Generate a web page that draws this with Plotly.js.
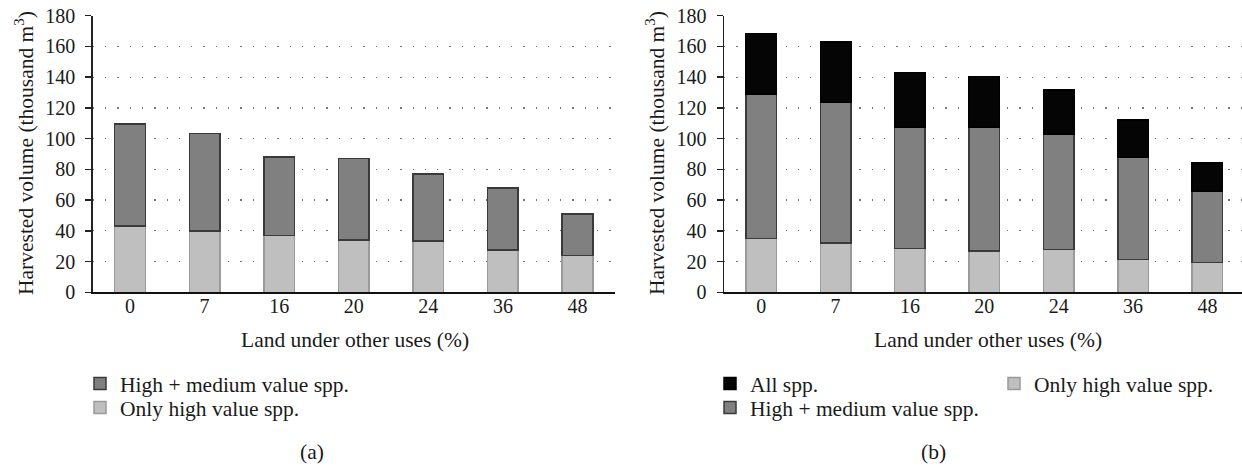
<!DOCTYPE html>
<html>
<head>
<meta charset="utf-8">
<script src="https://cdn.plot.ly/plotly-3.0.1.min.js"></script>
<style>html,body{margin:0;padding:0;background:#fff;}#chart{width:1242px;height:467px;}</style>
</head>
<body>
<div id="chart"></div>
<script>
// ---- Data (thousand m3) ----
const categories = ['0', '7', '16', '20', '24', '36', '48'];
// Panel (a): cumulative heights
const aOnlyHigh = [43, 40, 37, 34, 33.5, 27.5, 24];
const aHighMedium = [109.5, 103.5, 88, 87, 77, 68, 51];
// Panel (b): cumulative heights
const bOnlyHigh = [35, 32, 28.5, 27, 28, 21.5, 19.5];
const bHighMedium = [129, 123.5, 107.5, 107.5, 103, 88, 66];
const bAll = [168.5, 163, 143, 140.5, 131.5, 112, 84];
const yTickVals = [0, 20, 40, 60, 80, 100, 120, 140, 160, 180];

const seriesNames = {
  all: 'All spp.',
  highMed: 'High + medium value spp.',
  high: 'Only high value spp.'
};

// ---- Styling ----
const W = 1242, H = 467;
const FONT = 'Liberation Serif, Times New Roman, serif';
const TXT = '#1a1a1a';
const FS = 21.5;
const cLight = '#bfbfbf', cMed = '#808080', cBlack = '#050505';
const diff = (top, bottom) => top.map((v, i) => +(v - bottom[i]).toFixed(2));

const px = x => x / W;
const py = y => (H - y) / H;
const yDom = [py(292.3), py(15.7)];

const traces = [
  // panel (a)
  {type: 'bar', x: categories, y: aOnlyHigh, name: seriesNames.high, xaxis: 'x', yaxis: 'y',
   marker: {color: cLight, line: {color: '#9a9a9a', width: 1.5}}, legend: 'legend2'},
  {type: 'bar', x: categories, y: diff(aHighMedium, aOnlyHigh), name: seriesNames.highMed, xaxis: 'x', yaxis: 'y',
   marker: {color: cMed, line: {color: '#3a3a3a', width: 1.5}}, legend: 'legend'},
  // panel (b)
  {type: 'bar', x: categories, y: bOnlyHigh, name: seriesNames.high, xaxis: 'x2', yaxis: 'y2',
   marker: {color: cLight, line: {color: '#9a9a9a', width: 1.5}}, legend: 'legend5'},
  {type: 'bar', x: categories, y: diff(bHighMedium, bOnlyHigh), name: seriesNames.highMed, xaxis: 'x2', yaxis: 'y2',
   marker: {color: cMed, line: {color: '#3a3a3a', width: 1.5}}, legend: 'legend4'},
  {type: 'bar', x: categories, y: diff(bAll, bHighMedium), name: seriesNames.all, xaxis: 'x2', yaxis: 'y2',
   marker: {color: cBlack, line: {color: '#000', width: 1.5}}, legend: 'legend3'}
];
traces.forEach(t => { t.hoverinfo = 'none'; });

const yAxisBase = {
  range: [0, 180], tickvals: yTickVals, ticks: 'outside', ticklen: 6, tickwidth: 1.5, tickcolor: '#222',
  showline: true, linecolor: '#222', linewidth: 1.5, zeroline: false,
  showgrid: true, gridcolor: '#777', gridwidth: 1.3, griddash: '1.3px,11px',
  tickfont: {family: FONT, size: 20, color: TXT}, ticklabelstandoff: 6,
  domain: yDom, fixedrange: true
};
const xAxisBase = {
  type: 'category', showline: true, linecolor: '#111', linewidth: 1.5, ticks: '', showgrid: false,
  tickfont: {family: FONT, size: 20, color: TXT}, ticklabelstandoff: -5, fixedrange: true
};

const legendBase = {
  font: {family: FONT, size: FS, color: TXT}, bgcolor: 'rgba(0,0,0,0)', borderwidth: 0,
  xanchor: 'left', yanchor: 'top', orientation: 'v', traceorder: 'normal', tracegroupgap: 0,
  itemclick: false, itemdoubleclick: false
};
const row1 = py(363), row2 = py(387);

const layout = {
  width: W, height: H,
  margin: {l: 0, r: 0, t: 0, b: 0},
  paper_bgcolor: '#fff', plot_bgcolor: 'rgba(0,0,0,0)',
  barmode: 'stack', bargap: 0.59,
  showlegend: true,
  xaxis: Object.assign({}, xAxisBase, {domain: [px(92.7), px(614.8)], anchor: 'y', range: [-0.5, 6.5]}),
  yaxis: Object.assign({}, yAxisBase, {anchor: 'x'}),
  xaxis2: Object.assign({}, xAxisBase, {domain: [px(724), 1], anchor: 'y2', range: [-0.5, 6.464]}),
  yaxis2: Object.assign({}, yAxisBase, {anchor: 'x2'}),
  legend: Object.assign({}, legendBase, {x: px(80), y: row1}),
  legend2: Object.assign({}, legendBase, {x: px(80), y: row2}),
  legend3: Object.assign({}, legendBase, {x: px(710), y: row1}),
  legend4: Object.assign({}, legendBase, {x: px(710), y: row2}),
  legend5: Object.assign({}, legendBase, {x: px(994), y: row1}),
  annotations: [
    {text: 'Harvested volume (thousand m<sup>3</sup>)', textangle: -90, xref: 'paper', yref: 'paper',
     x: px(24), y: py(153), xanchor: 'center', yanchor: 'middle', showarrow: false,
     font: {family: FONT, size: FS, color: TXT}},
    {text: 'Harvested volume (thousand m<sup>3</sup>)', textangle: -90, xref: 'paper', yref: 'paper',
     x: px(655), y: py(153), xanchor: 'center', yanchor: 'middle', showarrow: false,
     font: {family: FONT, size: FS, color: TXT}},
    {text: 'Land under other uses (%)', xref: 'paper', yref: 'paper', x: px(355), y: py(340),
     xanchor: 'center', yanchor: 'middle', showarrow: false, font: {family: FONT, size: FS, color: TXT}},
    {text: 'Land under other uses (%)', xref: 'paper', yref: 'paper', x: px(988), y: py(340),
     xanchor: 'center', yanchor: 'middle', showarrow: false, font: {family: FONT, size: FS, color: TXT}},
    {text: '(a)', xref: 'paper', yref: 'paper', x: px(312), y: py(452),
     xanchor: 'center', yanchor: 'middle', showarrow: false, font: {family: FONT, size: FS, color: TXT}},
    {text: '(b)', xref: 'paper', yref: 'paper', x: px(933), y: py(452),
     xanchor: 'center', yanchor: 'middle', showarrow: false, font: {family: FONT, size: FS, color: TXT}}
  ]
};

Plotly.newPlot('chart', traces, layout, {displayModeBar: false, staticPlot: true});
</script>
</body>
</html>
